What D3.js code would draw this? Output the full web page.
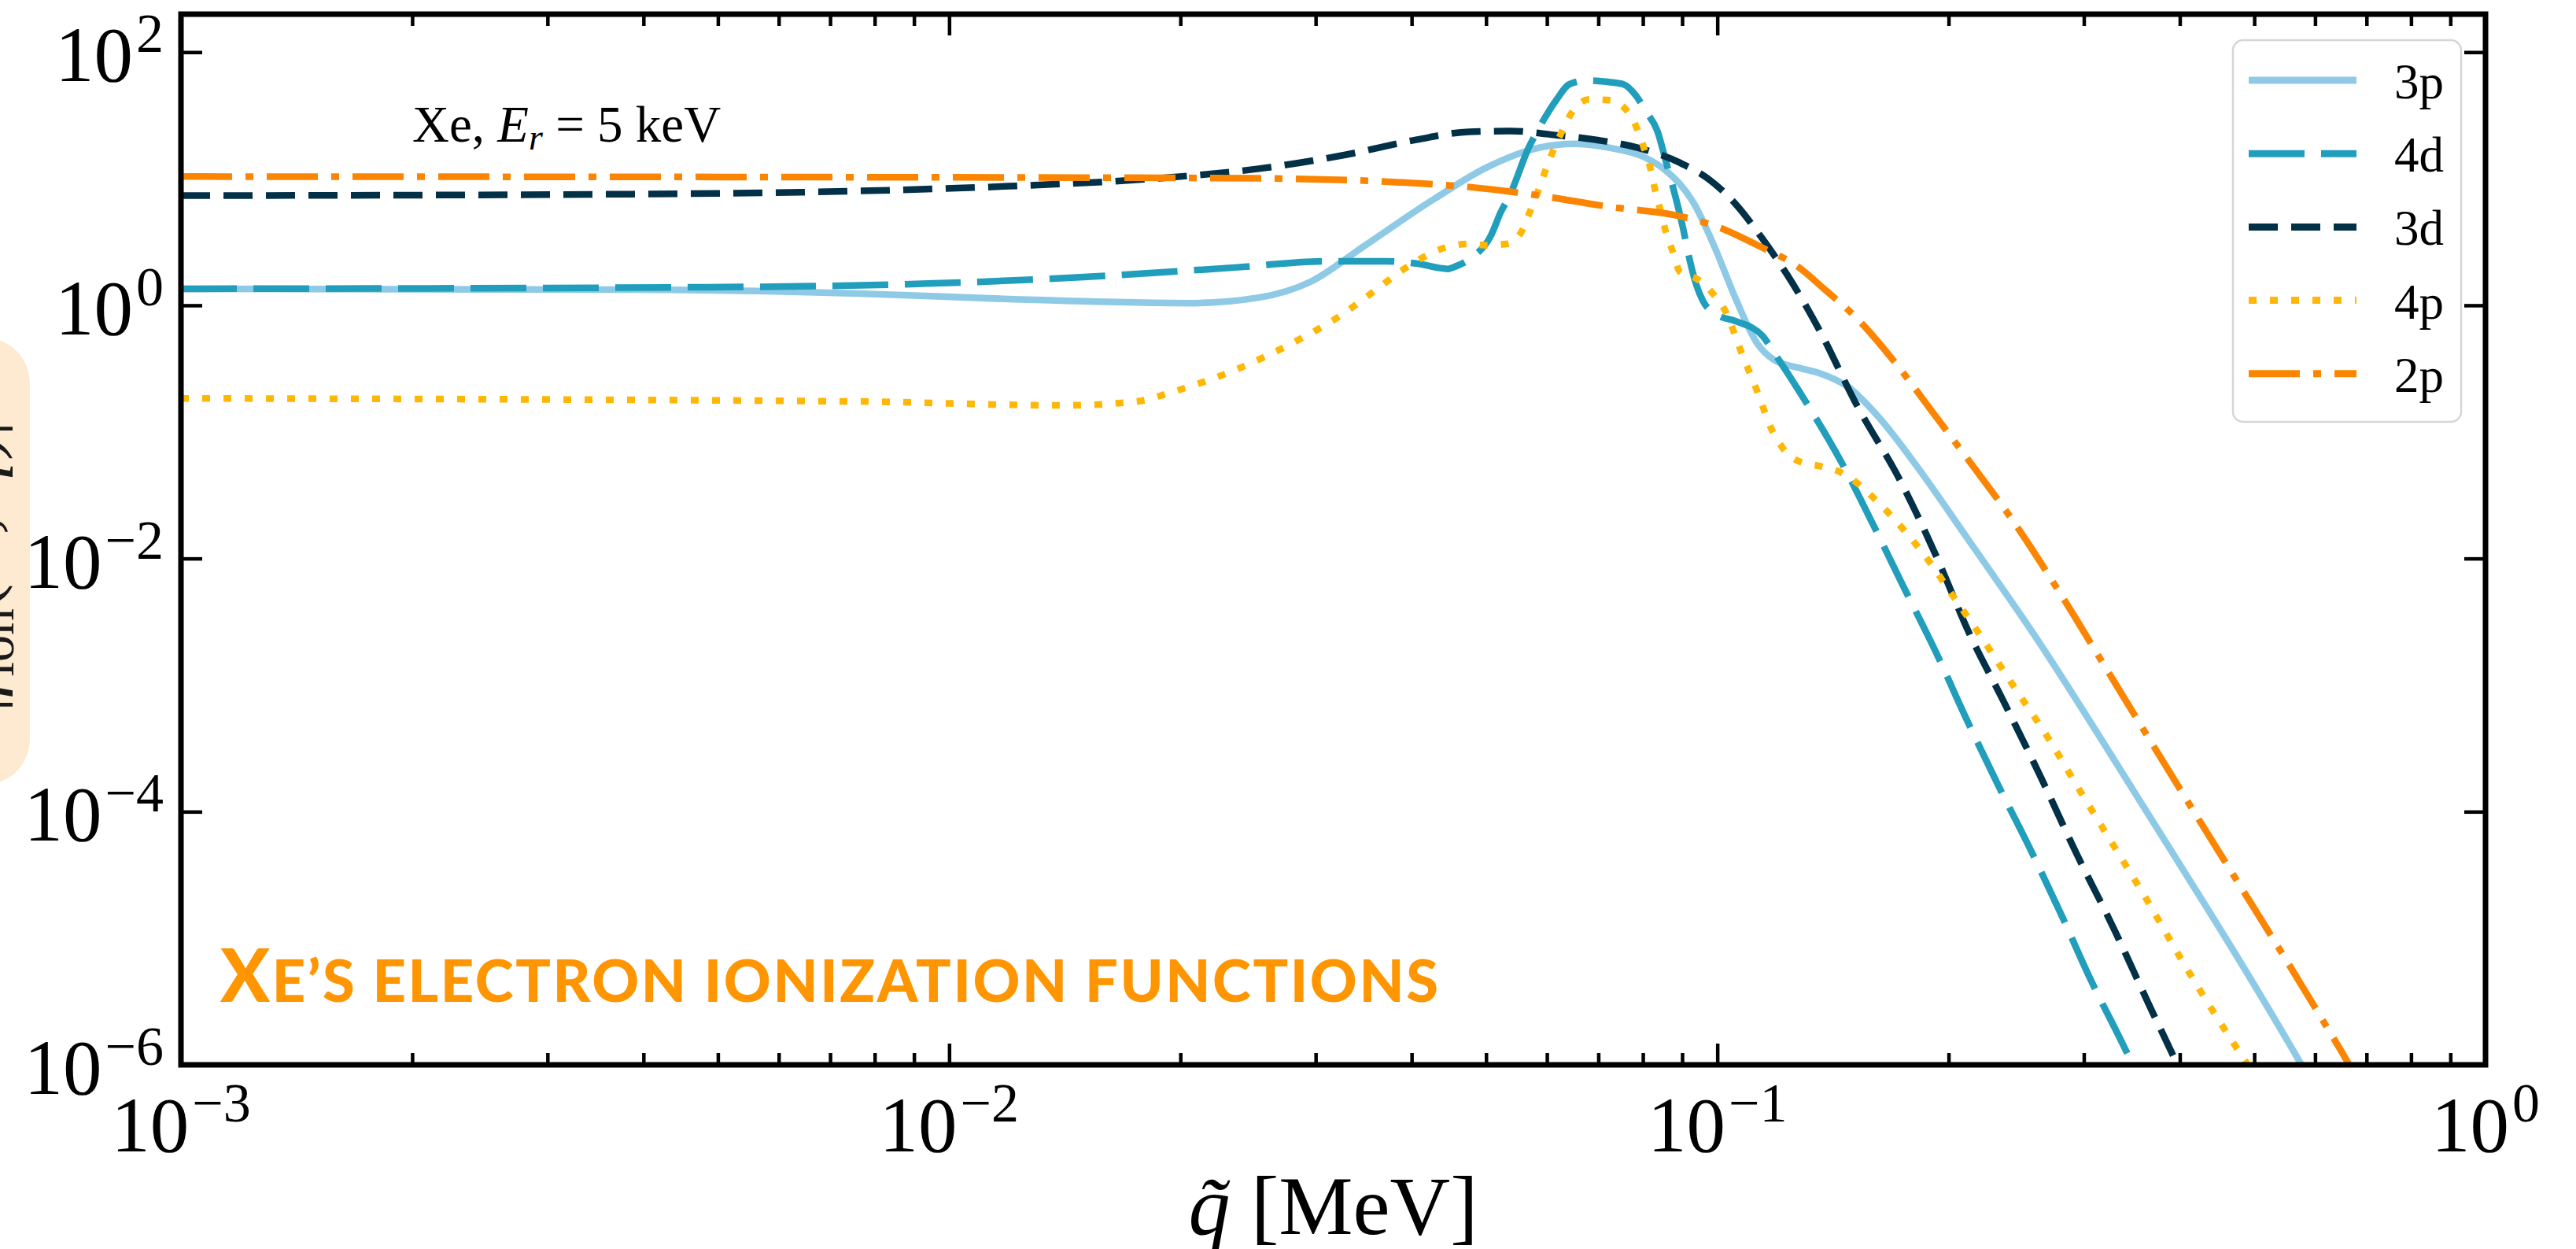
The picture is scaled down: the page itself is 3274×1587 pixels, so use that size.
<!DOCTYPE html>
<html>
<head>
<meta charset="utf-8">
<script src="https://cdn.jsdelivr.net/npm/d3@7"></script>
<style>
  html, body { margin: 0; padding: 0; background: #ffffff; }
  svg { display: block; }
</style>
</head>
<body>
<script>
// ---------------- DATA ----------------
// each point: [q~ in MeV, |f|^2 value]
const series3p = [[0.001,1.35],[0.00387,1.33],[0.00762,1.24],[0.01197,1.12],[0.02056,1.04],[0.02529,1.15],[0.02958,1.54],[0.03467,2.93],[0.04276,6.9],[0.05012,12.3],[0.05861,17.6],[0.06516,18.9],[0.07228,17.6],[0.08035,14.8],[0.0857,11.6],[0.09333,6.3],[0.09908,2.93],[0.1057,1.12],[0.1127,0.50],[0.1186,0.37],[0.1279,0.32],[0.1361,0.29],[0.1483,0.225],[0.1629,0.127],[0.1828,0.0513],[0.2118,0.0143],[0.2582,2.52e-3],[0.3475,1.49e-4],[0.5768,9.86e-7],[0.631,3.8e-7]];
const series4d = [[0.001,1.35],[0.00485,1.39],[0.00955,1.49],[0.01496,1.67],[0.02355,1.99],[0.03119,2.23],[0.03698,2.23],[0.04055,2.14],[0.04457,1.94],[0.04581,2.05],[0.04797,2.40],[0.0507,3.53],[0.05224,5.43],[0.05358,7.24],[0.05689,17.9],[0.05861,25.2],[0.0618,42.3],[0.06412,55.6],[0.06761,59.7],[0.07228,58.0],[0.07551,55.6],[0.07834,45.4],[0.08072,34.1],[0.08356,23.8],[0.0857,13.8],[0.0871,9.64],[0.09036,3.91],[0.09141,2.77],[0.09376,1.49],[0.09572,1.09],[0.1,0.84],[0.1057,0.75],[0.1146,0.57],[0.1186,0.42],[0.1291,0.19],[0.1449,0.0583],[0.1592,0.019],[0.175,5.87e-3],[0.1928,1.79e-3],[0.2109,5.43e-4],[0.2317,1.65e-4],[0.2553,5.1e-5],[0.2799,1.57e-5],[0.3062,4.71e-6],[0.3373,1.45e-6],[0.3631,5.7e-7]];
const series3d = [[0.001,7.35],[0.00387,7.56],[0.00762,8.0],[0.01197,8.73],[0.01879,10.1],[0.02529,12.0],[0.03289,15.5],[0.04055,20.3],[0.04753,23.5],[0.05383,23.8],[0.06252,21.9],[0.0695,20.3],[0.0787,17.6],[0.08933,13.4],[0.09705,10.1],[0.1057,6.28],[0.1138,3.53],[0.1253,1.49],[0.1361,0.62],[0.1514,0.169],[0.1734,0.0402],[0.1928,0.0104],[0.2128,2.56e-3],[0.2355,7.57e-4],[0.2636,1.88e-4],[0.2931,4.74e-5],[0.3289,1.16e-5],[0.3656,2.89e-6],[0.399,9.4e-7],[0.4178,5e-7]];
const series4p = [[0.001,0.184],[0.00762,0.174],[0.01403,0.162],[0.01754,0.174],[0.01963,0.209],[0.02355,0.308],[0.02871,0.547],[0.03221,0.818],[0.03573,1.29],[0.03936,1.99],[0.04416,2.85],[0.04753,3.06],[0.05012,2.98],[0.05333,3.06],[0.05572,3.91],[0.05715,5.68],[0.05861,8.36],[0.05984,12.0],[0.06124,17.1],[0.06281,23.8],[0.06471,33.6],[0.06808,42.3],[0.07228,41.7],[0.07638,34.1],[0.0787,24.5],[0.08035,17.1],[0.08185,12.0],[0.08299,8.13],[0.08433,5.60],[0.0857,3.80],[0.0875,2.65],[0.08933,1.85],[0.09419,1.61],[0.09863,1.24],[0.1026,0.88],[0.1074,0.43],[0.1127,0.209],[0.118,0.101],[0.1219,0.0735],[0.1279,0.0583],[0.1361,0.0536],[0.1449,0.0478],[0.1528,0.0385],[0.16,0.0298],[0.1742,0.0173],[0.1888,9.44e-3],[0.2032,4.95e-3],[0.2183,2.64e-3],[0.2427,9.93e-4],[0.2698,3.79e-4],[0.2972,1.43e-4],[0.3289,5.25e-5],[0.364,1.92e-5],[0.3999,7.14e-6],[0.4426,2.61e-6],[0.4898,1.01e-6],[0.5297,4.95e-7]];
const series2p = [[0.001,10.4],[0.01496,10.2],[0.02529,10.07],[0.03855,9.37],[0.04753,8.6],[0.05689,7.56],[0.07228,6.01],[0.08933,5.06],[0.09908,4.26],[0.1161,2.73],[0.1265,2.08],[0.1377,1.35],[0.1528,0.762],[0.1718,0.331],[0.1905,0.144],[0.2118,0.061],[0.2432,0.0194],[0.2786,5.47e-3],[0.3192,1.42e-3],[0.364,3.85e-4],[0.4169,1.01e-4],[0.4764,2.75e-5],[0.5445,7.45e-6],[0.6223,1.96e-6],[0.6668,9.6e-7],[0.7031,4.95e-7]];

const seriesNames = ["3p", "4d", "3d", "4p", "2p"];
const seriesData = [series3p, series4d, series3d, series4p, series2p];
const seriesColors = ["#8ecae6", "#219ebc", "#023047", "#ffb703", "#fb8500"];
const seriesDash = ["none", "71,21", "37,17", "10,17", "65,17,10,17"];

const xMajorTicks = [1e-3, 1e-2, 1e-1, 1];
const xMajorExp = ["−3", "−2", "−1", "0"];
const yMajorTicks = [1e-6, 1e-4, 1e-2, 1, 1e2];
const yMajorExp = ["−6", "−4", "−2", "0", "2"];

const titleCap = "X";
const titleRest = "E’S ELECTRON IONIZATION FUNCTIONS";

// ---------------- LAYOUT ----------------
const W = 3274, H = 1587;
const L = 230, R = 3159, T = 18, B = 1353;
const serif = "'Liberation Serif', 'DejaVu Serif', serif";

const svg = d3.select("body").append("svg")
  .attr("width", W).attr("height", H)
  .attr("viewBox", `0 0 ${W} ${H}`);

svg.append("rect").attr("width", W).attr("height", H).attr("fill", "#ffffff");

const x = d3.scaleLog().domain([1e-3, 1]).range([L, R]);
const y = d3.scaleLog().domain([1e-6, Math.pow(10, 2.3)]).range([B, T]);

// minor x ticks
const xMinor = [];
for (let e = -3; e < 0; e++) for (let m = 2; m <= 9; m++) xMinor.push(m * Math.pow(10, e));

// ---------------- Y LABEL (cut off at the left edge, as in the reference) ----------------
const ylab = svg.append("g");
ylab.append("rect")
  .attr("x", -70).attr("y", 430).attr("width", 108).attr("height", 566)
  .attr("rx", 58).attr("ry", 58)
  .attr("fill", "#feead0");
const ylt = ylab.append("text")
  .attr("transform", "translate(-4,703) rotate(-90)")
  .attr("text-anchor", "middle")
  .attr("font-family", serif).attr("font-size", 94).attr("fill", "#1a1a1a");
ylt.append("tspan").text("|");
ylt.append("tspan").attr("font-style", "italic").text("f");
ylt.append("tspan").attr("font-size", 68).attr("dy", 21).text("ion");
ylt.append("tspan").attr("dy", -21).text("(");
ylt.append("tspan").attr("font-style", "italic").text("k");
ylt.append("tspan").text("′, ");
ylt.append("tspan").attr("font-style", "italic").text("q̃");
ylt.append("tspan").text(")|");
ylt.append("tspan").attr("font-size", 68).attr("dy", -38).text("2");

// ---------------- LINES ----------------
svg.append("clipPath").attr("id", "plotclip")
  .append("rect").attr("x", L).attr("y", T).attr("width", R - L).attr("height", B - T);

const line = d3.line()
  .x(d => x(d[0]))
  .y(d => y(d[1]))
  .curve(d3.curveMonotoneX);

const lines = svg.append("g").attr("clip-path", "url(#plotclip)");
seriesData.forEach((data, i) => {
  lines.append("path")
    .datum(data)
    .attr("d", line)
    .attr("fill", "none")
    .attr("stroke", seriesColors[i])
    .attr("stroke-width", 8.5)
    .attr("stroke-dasharray", seriesDash[i])
    .attr("stroke-linecap", "butt")
    .attr("stroke-linejoin", "round");
});

// ---------------- AXES ----------------
function styleAxis(g) {
  g.select(".domain").remove();
  g.selectAll(".tick line").attr("stroke", "#000").attr("stroke-width", 4.5);
  g.selectAll(".tick text").remove();
}

svg.append("g").attr("transform", `translate(0,${B})`)
  .call(d3.axisBottom(x).tickValues(xMajorTicks).tickSize(-27).tickFormat(""))
  .call(styleAxis);
svg.append("g").attr("transform", `translate(0,${B})`)
  .call(d3.axisBottom(x).tickValues(xMinor).tickSize(-15).tickFormat(""))
  .call(styleAxis);
svg.append("g").attr("transform", `translate(0,${T})`)
  .call(d3.axisTop(x).tickValues(xMajorTicks).tickSize(-27).tickFormat(""))
  .call(styleAxis);
svg.append("g").attr("transform", `translate(0,${T})`)
  .call(d3.axisTop(x).tickValues(xMinor).tickSize(-15).tickFormat(""))
  .call(styleAxis);
svg.append("g").attr("transform", `translate(${L},0)`)
  .call(d3.axisLeft(y).tickValues(yMajorTicks).tickSize(-27).tickFormat(""))
  .call(styleAxis);
svg.append("g").attr("transform", `translate(${R},0)`)
  .call(d3.axisRight(y).tickValues(yMajorTicks).tickSize(-27).tickFormat(""))
  .call(styleAxis);

// frame
svg.append("rect")
  .attr("x", L).attr("y", T).attr("width", R - L).attr("height", B - T)
  .attr("fill", "none").attr("stroke", "#000").attr("stroke-width", 7);

// tick labels
xMajorTicks.forEach((v, i) => {
  const t = svg.append("text")
    .attr("x", x(v)).attr("y", 1463)
    .attr("text-anchor", "middle")
    .attr("font-family", serif).attr("font-size", 99).attr("fill", "#000");
  t.append("tspan").text("10");
  t.append("tspan").attr("font-size", 70).attr("dy", -38).attr("dx", 4).text(xMajorExp[i]);
});
yMajorTicks.forEach((v, i) => {
  const t = svg.append("text")
    .attr("x", 208).attr("y", y(v) + 37)
    .attr("text-anchor", "end")
    .attr("font-family", serif).attr("font-size", 99).attr("fill", "#000");
  t.append("tspan").text("10");
  t.append("tspan").attr("font-size", 70).attr("dy", -37).attr("dx", 4).text(yMajorExp[i]);
});

// x axis label
const xl = svg.append("text")
  .attr("x", (L + R) / 2).attr("y", 1568)
  .attr("text-anchor", "middle")
  .attr("font-family", serif).attr("font-size", 106).attr("fill", "#000");
xl.append("tspan").attr("font-style", "italic").text("q̃");
xl.append("tspan").text(" [MeV]");

// annotation
const ann = svg.append("text")
  .attr("x", 524).attr("y", 180)
  .attr("font-family", serif).attr("font-size", 65).attr("fill", "#000");
ann.append("tspan").text("Xe, ");
ann.append("tspan").attr("font-style", "italic").text("E");
ann.append("tspan").attr("font-style", "italic").attr("font-size", 46).attr("dy", 10).text("r");
ann.append("tspan").attr("dy", -10).text(" = 5 keV");

// ---------------- LEGEND ----------------
const lg = svg.append("g");
lg.append("rect")
  .attr("x", 2838).attr("y", 51).attr("width", 290).attr("height", 485)
  .attr("rx", 13).attr("ry", 13)
  .attr("fill", "#ffffff").attr("fill-opacity", 0.85)
  .attr("stroke", "#d6d6d6").attr("stroke-width", 2.5);
seriesNames.forEach((name, i) => {
  const cy = 102 + i * 93.2;
  lg.append("line")
    .attr("x1", 2858).attr("x2", 2995).attr("y1", cy).attr("y2", cy)
    .attr("stroke", seriesColors[i]).attr("stroke-width", 9)
    .attr("stroke-dasharray", seriesDash[i]);
  lg.append("text")
    .attr("x", 3043).attr("y", cy + 23)
    .attr("font-family", serif).attr("font-size", 63).attr("fill", "#000")
    .text(name);
});

// ---------------- TITLE ----------------
const title = svg.append("text")
  .attr("x", 280).attr("y", 1273)
  .attr("font-family", "Lato, 'Open Sans', sans-serif").attr("font-weight", 900)
  .attr("fill", "#ff9500");
title.append("tspan").attr("font-size", 93).text(titleCap);
title.append("tspan").attr("font-size", 74).text(titleRest);
const tw = title.node().getComputedTextLength();
const nChars = (titleCap + titleRest).length;
const ls = (1548 - tw) / (nChars - 1);
title.attr("letter-spacing", ls);
</script>
</body>
</html>
